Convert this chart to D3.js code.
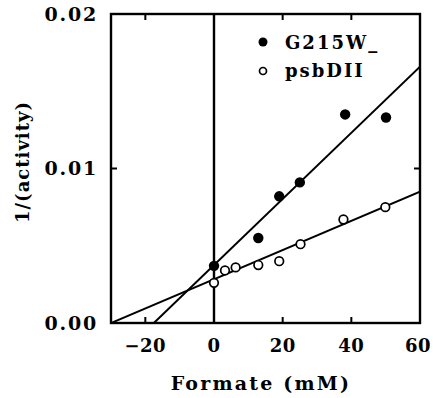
<!DOCTYPE html>
<html>
<head>
<meta charset="utf-8">
<script src="https://cdn.jsdelivr.net/npm/d3@7"></script>
<style>
  html, body { margin: 0; padding: 0; background: #fff; }
  svg { display: block; }
  text { font-family: "DejaVu Serif", "Liberation Serif", serif; font-weight: bold; fill: #000; }
</style>
</head>
<body>
<svg id="chart" width="433" height="398"></svg>
<script>
// Formate concentration (mM) and reciprocal activity for each strain
const g215wX = [0, 12.9, 19.0, 25.0, 38.2, 50.1];
const g215wY = [0.0037, 0.0055, 0.0082, 0.0091, 0.0135, 0.0133];
const psbdX = [0, 3.2, 6.3, 12.9, 19.0, 25.2, 37.7, 49.9];
const psbdY = [0.0026, 0.0034, 0.0036, 0.00375, 0.0040, 0.0051, 0.0067, 0.0075];

// Linear fits: [intercept, slope]
const g215wFit = [0.00375, 0.000214];
const psbdFit = [0.00283, 0.0000944];

const xTicks = [-20, 0, 20, 40, 60];
const yTicks = [0.00, 0.01, 0.02];
const seriesNames = ["G215W_", "psbDII"];

const svg = d3.select("#chart");
const m = { left: 111, right: 420, top: 14, bottom: 323 };

const x = d3.scaleLinear().domain([-30, 60]).range([m.left, m.right]);
const y = d3.scaleLinear().domain([0, 0.02]).range([m.bottom, m.top]);

svg.append("clipPath").attr("id", "plot")
  .append("rect").attr("x", m.left).attr("y", m.top)
  .attr("width", m.right - m.left).attr("height", m.bottom - m.top);

// Frame
svg.append("rect")
  .attr("x", m.left).attr("y", m.top)
  .attr("width", m.right - m.left).attr("height", m.bottom - m.top)
  .attr("fill", "none").attr("stroke", "#000").attr("stroke-width", 2.4);

// Inward ticks on all four sides
const tickLen = 6;
const xt = [-20, 20, 40];
xt.forEach(v => {
  svg.append("line").attr("x1", x(v)).attr("x2", x(v))
    .attr("y1", m.bottom).attr("y2", m.bottom - tickLen)
    .attr("stroke", "#000").attr("stroke-width", 2);
  svg.append("line").attr("x1", x(v)).attr("x2", x(v))
    .attr("y1", m.top).attr("y2", m.top + tickLen)
    .attr("stroke", "#000").attr("stroke-width", 2);
});
[0.01].forEach(v => {
  svg.append("line").attr("x1", m.left).attr("x2", m.left + tickLen)
    .attr("y1", y(v)).attr("y2", y(v))
    .attr("stroke", "#000").attr("stroke-width", 2);
  svg.append("line").attr("x1", m.right).attr("x2", m.right - tickLen)
    .attr("y1", y(v)).attr("y2", y(v))
    .attr("stroke", "#000").attr("stroke-width", 2);
});

// Tick labels
const fmtY = d3.format(".2f");
svg.append("g").selectAll("text").data(yTicks).join("text")
  .attr("x", 98).attr("y", d => y(d))
  .attr("dy", "0.36em")
  .attr("text-anchor", "end")
  .attr("font-size", 19)
  .attr("letter-spacing", 1.8)
  .text(d => fmtY(d));

svg.append("g").selectAll("text").data(xTicks).join("text")
  .attr("x", d => Math.min(x(d), 418)).attr("y", 352)
  .attr("text-anchor", "middle")
  .attr("font-size", 18)
  .attr("letter-spacing", 0.5)
  .text(d => d < 0 ? "\u2212" + Math.abs(d) : d);

// Axis titles
svg.append("text")
  .attr("x", 261).attr("y", 390)
  .attr("text-anchor", "middle")
  .attr("font-size", 19)
  .attr("letter-spacing", 2.2)
  .text("Formate (mM)");

svg.append("text")
  .attr("transform", "translate(29,162) rotate(-90)")
  .attr("text-anchor", "middle")
  .attr("font-size", 18)
  .attr("letter-spacing", 1)
  .text("1/(activity)");

const plot = svg.append("g").attr("clip-path", "url(#plot)");

// Vertical reference line at zero formate
plot.append("line")
  .attr("x1", x(0)).attr("x2", x(0))
  .attr("y1", m.top).attr("y2", m.bottom)
  .attr("stroke", "#000").attr("stroke-width", 2.4);

// Fit lines
function fitLine(fit) {
  const x0 = -30, x1 = 60;
  plot.append("line")
    .attr("x1", x(x0)).attr("y1", y(fit[0] + fit[1] * x0))
    .attr("x2", x(x1)).attr("y2", y(fit[0] + fit[1] * x1))
    .attr("stroke", "#000").attr("stroke-width", 2);
}
fitLine(g215wFit);
fitLine(psbdFit);

// Data points
plot.append("g").selectAll("circle").data(psbdX.map((v, i) => [v, psbdY[i]])).join("circle")
  .attr("cx", d => x(d[0])).attr("cy", d => y(d[1]))
  .attr("r", 4.3).attr("fill", "#fff").attr("stroke", "#000").attr("stroke-width", 1.7);

plot.append("g").selectAll("circle").data(g215wX.map((v, i) => [v, g215wY[i]])).join("circle")
  .attr("cx", d => x(d[0])).attr("cy", d => y(d[1]))
  .attr("r", 5.2).attr("fill", "#000");

// Legend
const lg = svg.append("g");
lg.append("circle").attr("cx", 263).attr("cy", 42).attr("r", 4.5).attr("fill", "#000");
lg.append("circle").attr("cx", 263).attr("cy", 71).attr("r", 3.5)
  .attr("fill", "#fff").attr("stroke", "#000").attr("stroke-width", 1.7);
lg.append("text").attr("x", 285).attr("y", 49).attr("font-size", 18)
  .attr("letter-spacing", 2).text(seriesNames[0]);
lg.append("text").attr("x", 285).attr("y", 77).attr("font-size", 18)
  .attr("letter-spacing", 2).text(seriesNames[1]);
</script>
</body>
</html>
